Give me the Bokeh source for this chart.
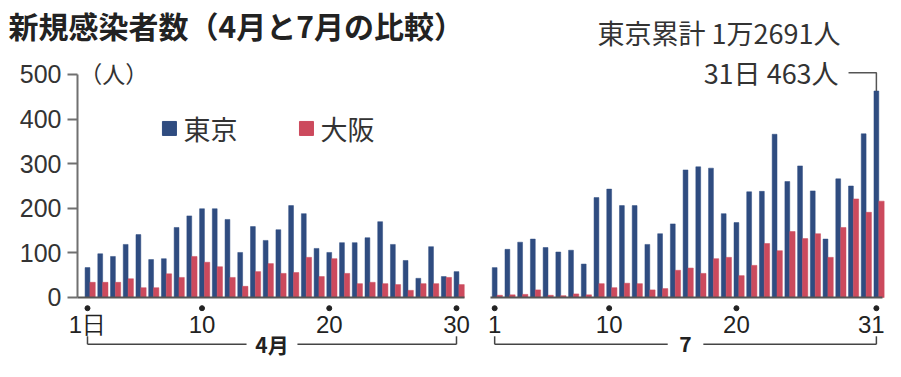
from bokeh.plotting import figure
from bokeh.models import Range1d, FixedTicker, Label, ColumnDataSource
from bokeh.core.properties import value
from bokeh.embed import file_html
from bokeh.resources import INLINE

# ---------------- data ----------------
apr_days = list(range(1, 31))
jul_days = list(range(1, 32))
tokyo_apr = [67, 98, 92, 119, 141, 85, 87, 157, 183, 199, 199, 175, 101, 159, 128,
             152, 206, 188, 110, 101, 123, 123, 134, 170, 119, 83, 43, 114, 47, 58]
osaka_apr = [34, 34, 34, 42, 22, 22, 53, 45, 92, 79, 69, 45, 25, 58, 76,
             54, 56, 90, 47, 87, 54, 31, 34, 31, 29, 16, 31, 31, 45, 29]
tokyo_jul = [67, 108, 124, 131, 112, 102, 106, 75, 224, 243, 206, 206, 119, 143, 165,
             286, 293, 290, 188, 168, 237, 238, 366, 260, 295, 239, 131, 266, 250, 367, 463]
osaka_jul = [5, 6, 7, 17, 5, 4, 8, 6, 31, 22, 32, 31, 17, 20, 61,
             66, 54, 87, 90, 49, 72, 121, 105, 148, 132, 143, 90, 157, 221, 191, 216]
series_names = ["東京", "大阪"]
series_colors = ["#2f4c80", "#cc4a5d"]
y_ticks = [0, 100, 200, 300, 400, 500]
apr_ticks = [1, 10, 20, 30]
apr_tick_labels = ["1日", "10", "20", "30"]
jul_ticks = [1, 10, 20, 31]
jul_tick_labels = ["1", "10", "20", "31"]
month_labels = ["4月", "7"]
title_text = "新規感染者数（4月と7月の比較）"
total_text = "東京累計 1万2691人"
unit_text = "（人）"

JUL_OFFSET = 32  # July day d is drawn at x = d + JUL_OFFSET
JP = "Noto Sans CJK JP"
LAT = "Liberation Sans"

p = figure(width=885, height=361, output_backend="svg", toolbar_location=None,
           x_range=Range1d(-5.837, 63.716), y_range=Range1d(-143.5, 665.9),
           x_axis_location=None, y_axis_location="left",
           min_border_left=0, min_border_right=0, min_border_top=0, min_border_bottom=0)
p.outline_line_color = None
p.grid.visible = False
p.background_fill_color = "white"
p.border_fill_color = "white"

# y axis, drawn inside the frame at a fixed x position
ax = p.yaxis[0]
ax.fixed_location = 0.214
ax.bounds = (0, 500)
ax.ticker = FixedTicker(ticks=y_ticks)
ax.minor_tick_line_color = None
ax.major_tick_in = 0
ax.major_tick_out = 10
ax.axis_line_color = "#707070"
ax.axis_line_width = 2
ax.major_tick_line_color = "#707070"
ax.major_tick_line_width = 2
ax.major_label_text_font = LAT
ax.major_label_text_font_size = "25px"
ax.major_label_text_color = "#333333"
ax.major_label_standoff = 6

# bars
xa = [d for d in apr_days] + [d + JUL_OFFSET for d in jul_days]
tokyo = tokyo_apr + tokyo_jul
osaka = osaka_apr + osaka_jul
src = ColumnDataSource(dict(xb=xa, xr=[x + 0.40 for x in xa], tokyo=tokyo, osaka=osaka))
p.vbar(x="xb", top="tokyo", bottom=0, width=0.38, source=src,
       fill_color=series_colors[0], line_color=series_colors[0], line_width=0.5)
p.vbar(x="xr", top="osaka", bottom=0, width=0.42, source=src,
       fill_color=series_colors[1], line_color=series_colors[1], line_width=0.5)

# baselines
p.segment(x0=[0.214, JUL_OFFSET + 0.67], x1=[30.63, JUL_OFFSET + 31.48], y0=[0, 0], y1=[0, 0],
          line_color="#555555", line_width=2)

# tick dots and labels
tick_x = apr_ticks + [t + JUL_OFFSET for t in jul_ticks]
tick_lab = apr_tick_labels + jul_tick_labels
p.scatter(x=tick_x, y=[-24] * len(tick_x), size=5, color="#222222")
p.text(x=tick_x[:-1], y=[-60] * (len(tick_x) - 1), text=tick_lab[:-1], text_font=value(LAT),
       text_font_size="24px", text_align="center", text_baseline="middle", text_color="#222222")
# last label sits against the right edge
p.text(x=[tick_x[-1] + 0.65], y=[-60], text=[tick_lab[-1]], text_font=value(LAT),
       text_font_size="24px", text_align="right", text_baseline="middle", text_color="#222222")

# month brackets
spans = [(apr_days[0], apr_days[-1], 2.0), (jul_days[0] + JUL_OFFSET, jul_days[-1] + JUL_OFFSET, 1.4)]
yb, ye = -105, -87
for (a, b, g), lab in zip(spans, month_labels):
    c = (a + b) / 2
    p.segment(x0=[a, c + g, a, b], x1=[c - g, b, a, b], y0=[yb, yb, yb, yb], y1=[yb, yb, ye, ye],
              line_color="#444444", line_width=1.5)
    p.add_layout(Label(x=c, y=yb, text=lab, text_font=JP, text_font_style="bold",
                       text_font_size="21px", text_align="center", text_baseline="middle",
                       text_color="#222222"))

# legend (manual)
leg_x = [7.44, 18.21]
for lx, name, col in zip(leg_x, series_names, series_colors):
    p.scatter(x=[lx], y=[379], marker="square", size=14, color=col)
    p.add_layout(Label(x=lx + 1.1, y=379, text=name, text_font=JP, text_font_size="27px",
                       text_baseline="middle", text_align="left", text_color="#333333"))

# titles / annotations
p.add_layout(Label(x=-5.21, y=610, text=title_text, text_font=JP, text_font_style="bold",
                   text_font_size="30px", text_baseline="middle", text_align="left",
                   text_color="#222222"))
p.add_layout(Label(x=60.18, y=594, text=total_text, text_font=JP, text_font_size="27px",
                   text_baseline="middle", text_align="right", text_color="#333333"))
p.add_layout(Label(x=0.35, y=504, text=unit_text, text_font=JP, text_font_size="23px",
                   text_baseline="middle", text_align="left", text_color="#333333"))

# 31日 callout
last_x = jul_days[-1] + JUL_OFFSET
last_v = tokyo_jul[-1]
p.add_layout(Label(x=60.03, y=504, text=f"{jul_days[-1]}日 {last_v}人", text_font=JP,
                   text_font_size="27px", text_baseline="middle", text_align="right",
                   text_color="#333333"))
p.line(x=[60.81, last_x, last_x], y=[504, 504, last_v], line_color="#555555", line_width=1.5)

open("out.html", "w").write(file_html(p, INLINE))
